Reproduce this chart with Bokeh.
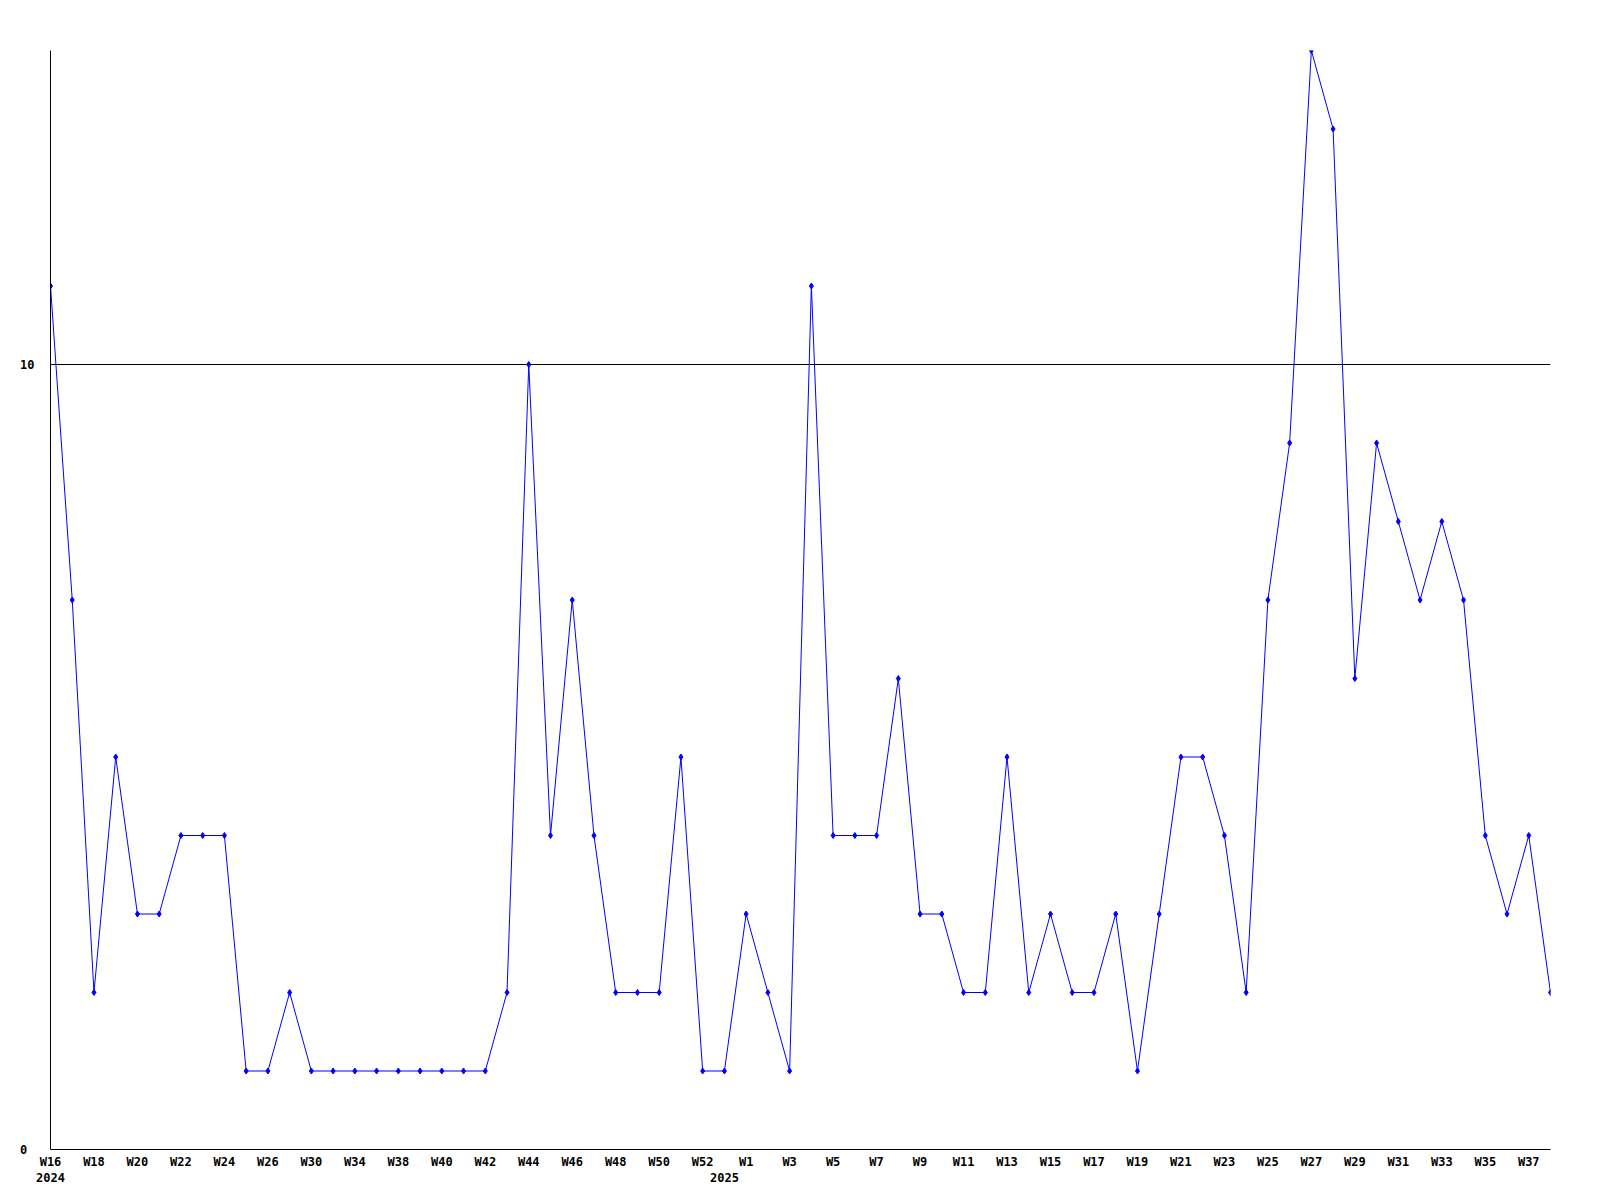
from bokeh.plotting import figure
from bokeh.models import Range1d, FixedTicker, LinearAxis, ColumnDataSource, Grid
from bokeh.embed import file_html
from bokeh.resources import INLINE

# Week categories (2024 then 2025), one per data point
weeks_2024 = ["W16", "W17", "W18", "W19", "W20", "W21", "W22", "W23", "W24", "W25",
              "W26", "W28", "W30", "W32", "W34", "W36", "W38", "W39", "W40", "W41",
              "W42", "W43", "W44", "W45", "W46", "W47", "W48", "W49", "W50", "W51",
              "W52", "W53"]
weeks_2025 = ["W%d" % i for i in range(1, 39)]
weeks = weeks_2024 + weeks_2025

counts = [11, 7, 2, 5, 3, 3, 4, 4, 4, 1,
          1, 2, 1, 1, 1, 1, 1, 1, 1, 1,
          1, 2, 10, 4, 7, 4, 2, 2, 2, 5,
          1, 1, 3, 2, 1, 11, 4, 4, 4, 6,
          3, 3, 2, 2, 5, 2, 3, 2, 2, 3,
          1, 3, 5, 5, 4, 2, 7, 9, 14, 13,
          6, 9, 8, 7, 8, 7, 4, 3, 4, 2]

y_ticks = [0, 10]
year_labels = {0: "2024", 31: "2025"}

idx = list(range(len(weeks)))
src = ColumnDataSource(dict(x=idx, y=counts, week=weeks))

FONT = "DejaVu Sans Mono"

p = figure(width=1584, height=1184, output_backend="svg", toolbar_location=None,
           x_range=Range1d(0, len(weeks) - 1), y_range=Range1d(0, 14),
           x_axis_type=None, y_axis_type=None,
           min_border_left=50, min_border_right=34, min_border_top=50, min_border_bottom=4)
p.outline_line_color = None
p.background_fill_color = "white"
p.border_fill_color = "white"

def style(ax):
    ax.major_tick_line_color = None
    ax.minor_tick_line_color = None
    ax.major_label_text_font = FONT
    ax.major_label_text_font_style = "bold"
    ax.major_label_text_font_size = "12px"
    ax.major_label_text_color = "black"

# y axis
yax = LinearAxis(ticker=FixedTicker(ticks=y_ticks))
yax.major_label_overrides = {0: "0\u00a0", 10: "10"}
style(yax)
yax.axis_line_color = "black"
yax.major_label_standoff = 10
p.add_layout(yax, "left")

# x axis (week labels every other point)
xax = LinearAxis(ticker=FixedTicker(ticks=idx[::2]))
xax.major_label_overrides = {i: weeks[i] for i in idx[::2]}
style(xax)
xax.axis_line_color = "black"
xax.major_label_standoff = -1
p.add_layout(xax, "below")

# year axis
yrax = LinearAxis(ticker=FixedTicker(ticks=list(year_labels.keys())))
yrax.major_label_overrides = year_labels
style(yrax)
yrax.axis_line_color = None
yrax.major_label_standoff = -5
p.add_layout(yrax, "below")

# grid line at 10
p.add_layout(Grid(dimension=1, ticker=FixedTicker(ticks=[10]),
                  grid_line_color="black", grid_line_width=1))

p.line("x", "y", source=src, line_color="#0000ff", line_width=1)
p.scatter("x", "y", source=src, marker="diamond", size=6, color="#0000ff")

open("out.html", "w").write(file_html(p, INLINE))
